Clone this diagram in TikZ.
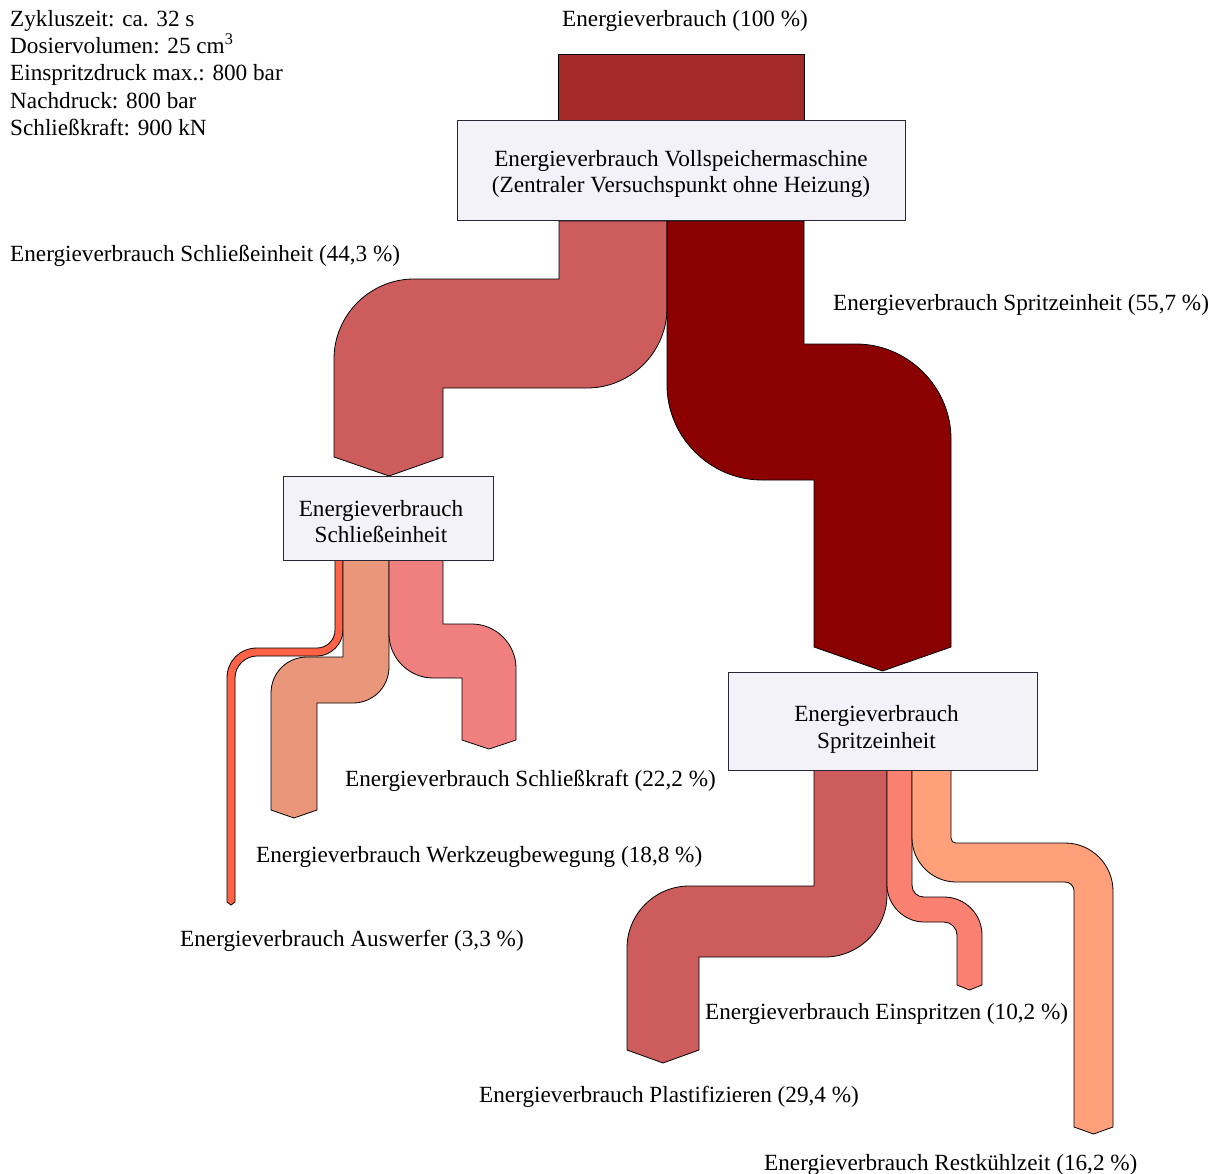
\documentclass[tikz,border=0pt]{standalone}
\usepackage{fontspec}
\setmainfont{Liberation Serif}
\newcommand\sankeyfont{\fontsize{23.2}{26.5}\selectfont}
\definecolor{boxfill}{RGB}{242,242,248}
\definecolor{boxline}{RGB}{40,40,55}
\definecolor{srcbrown}{RGB}{165,42,42}
\definecolor{darkred}{RGB}{139,0,0}
\definecolor{indianred}{RGB}{205,92,92}
\definecolor{darksalmon}{RGB}{233,150,122}
\definecolor{lightcoral}{RGB}{240,128,128}
\definecolor{tomato}{RGB}{255,99,71}
\definecolor{salmon}{RGB}{250,128,114}
\definecolor{lightsalmon}{RGB}{255,160,122}
\begin{document}
\begin{tikzpicture}[x=1pt,y=-1pt,
  flow/.style={draw=black,line width=0.8pt,line join=miter},
  box/.style={draw=boxline,fill=boxfill,line width=1pt,inner sep=0pt},
  boxtext/.style={align=center,inner sep=0pt,font=\sankeyfont},
  lab/.style={anchor=west,inner sep=0pt,font=\sankeyfont}]
\useasboundingbox (0,0) rectangle (1217,1174);

% machine data
\node[anchor=north west,inner sep=0pt,align=left,font=\fontsize{23.2}{27.25}\selectfont] (data) at (10,10)
  {Zykluszeit: ca. 32 s\\Dosiervolumen: 25 cm\textsuperscript{3}\\Einspritzdruck max.: 800 bar\\Nachdruck: 800 bar\\Schließkraft: 900 kN};

% total input
\node[inner sep=0pt,font=\sankeyfont] (ltot) at (685,21) {Energieverbrauch (100 \%)};
\fill[srcbrown,draw=black,line width=0.8pt] (558,54) rectangle (804,121);

% clamping unit branch (44.3 %)
\path[flow,fill=indianred] (559,221) -- (559,279) -- (414,279)
  .. controls (370,279) and (334,315) .. (334,359) -- (334,457) -- (389,476) -- (443,457)
  -- (443,388) -- (587,388) .. controls (631,388) and (667,352) .. (667,308) -- (667,221) -- cycle;

% injection unit branch (55.7 %)
\path[flow,fill=darkred] (667,221) -- (667,385)
  .. controls (667,437) and (710,480) .. (762,480) -- (814,480) -- (814,647) -- (882.5,671) -- (951,647)
  -- (951,439) .. controls (951,387) and (908,344) .. (856,344) -- (804,344) -- (804,221) -- cycle;

\node[box,minimum width=448,minimum height=100] (main) at (681,171) {};
\node[boxtext] (mainT) at (681,174)
  {Energieverbrauch Vollspeichermaschine\\(Zentraler Versuchspunkt ohne Heizung)};

% ejector (3.3 %)
\path[flow,fill=tomato] (335,560) -- (335,630) .. controls (335,640) and (327,648) .. (317,648)
  -- (257,648) .. controls (240,648) and (227,661) .. (227,678) -- (227,902) -- (231,905) -- (235,902)
  -- (235,678) .. controls (235,666) and (245,656) .. (257,656) -- (317,656)
  .. controls (331,656) and (343,644) .. (343,630) -- (343,560) -- cycle;

% mould movement (18.8 %)
\path[flow,fill=darksalmon] (343,560) -- (343,657) -- (307,657)
  .. controls (287,657) and (271,673) .. (271,693) -- (271,810) -- (294,818) -- (317,810)
  -- (317,703) -- (353,703) .. controls (373,703) and (389,687) .. (389,667) -- (389,560) -- cycle;

% clamping force (22.2 %)
\path[flow,fill=lightcoral] (389,560) -- (389,634) .. controls (389,658) and (409,678) .. (433,678)
  -- (462,678) -- (462,740) -- (489,749) -- (516,740) -- (516,668)
  .. controls (516,644) and (496,624) .. (472,624) -- (443,624) -- (443,560) -- cycle;

% plasticising (29.4 %)
\path[flow,fill=indianred] (814,770) -- (814,886) -- (689,886)
  .. controls (655,886) and (627,914) .. (627,948) -- (627,1050) -- (663,1063) -- (699,1050)
  -- (699,957) -- (825,957) .. controls (859,957) and (887,929) .. (887,895) -- (887,770) -- cycle;

% injection (10.2 %)
\path[flow,fill=salmon] (887,770) -- (887,885) .. controls (887,905) and (904,922) .. (924,922)
  -- (944,922) .. controls (951,922) and (957,928) .. (957,935) -- (957,985) -- (969.5,990) -- (982,985)
  -- (982,935) .. controls (982,914) and (965,897) .. (944,897) -- (924,897)
  .. controls (917,897) and (912,892) .. (912,885) -- (912,770) -- cycle;

% residual cooling time (16.2 %)
\path[flow,fill=lightsalmon] (912,770) -- (912,838) .. controls (912,862) and (932,882) .. (956,882)
  -- (1065,882) .. controls (1070,882) and (1074,886) .. (1074,891) -- (1074,1127) -- (1093.5,1134) -- (1113,1127)
  -- (1113,891) .. controls (1113,864.5) and (1091.5,843) .. (1065,843) -- (956,843)
  .. controls (953,843) and (951,841) .. (951,838) -- (951,770) -- cycle;

\node[box,minimum width=210,minimum height=84] (clamp) at (388,518) {};
\node[boxtext] (clampT) at (381,521.5) {Energieverbrauch\\Schließeinheit};
\node[box,minimum width=309,minimum height=98] (inj) at (882.5,721) {};
\node[boxtext] (injT) at (876.5,729.5) {Energieverbrauch\\Spritzeinheit};

% flow labels
\node[lab] (lclamp) at (10,256) {Energieverbrauch Schließeinheit (44,3 \%)};
\node[lab] (linj) at (833,305) {Energieverbrauch Spritzeinheit (55,7 \%)};
\node[lab] (lforce) at (345,781) {Energieverbrauch Schließkraft (22,2 \%)};
\node[lab] (lmould) at (256,857) {Energieverbrauch Werkzeugbewegung (18,8 \%)};
\node[lab] (leject) at (180,941) {Energieverbrauch Auswerfer (3,3 \%)};
\node[lab] (linject) at (705,1014) {Energieverbrauch Einspritzen (10,2 \%)};
\node[lab] (lplast) at (479,1097) {Energieverbrauch Plastifizieren (29,4 \%)};
\node[lab] (lcool) at (764,1165) {Energieverbrauch Restkühlzeit (16,2 \%)};
\end{tikzpicture}
\end{document}
